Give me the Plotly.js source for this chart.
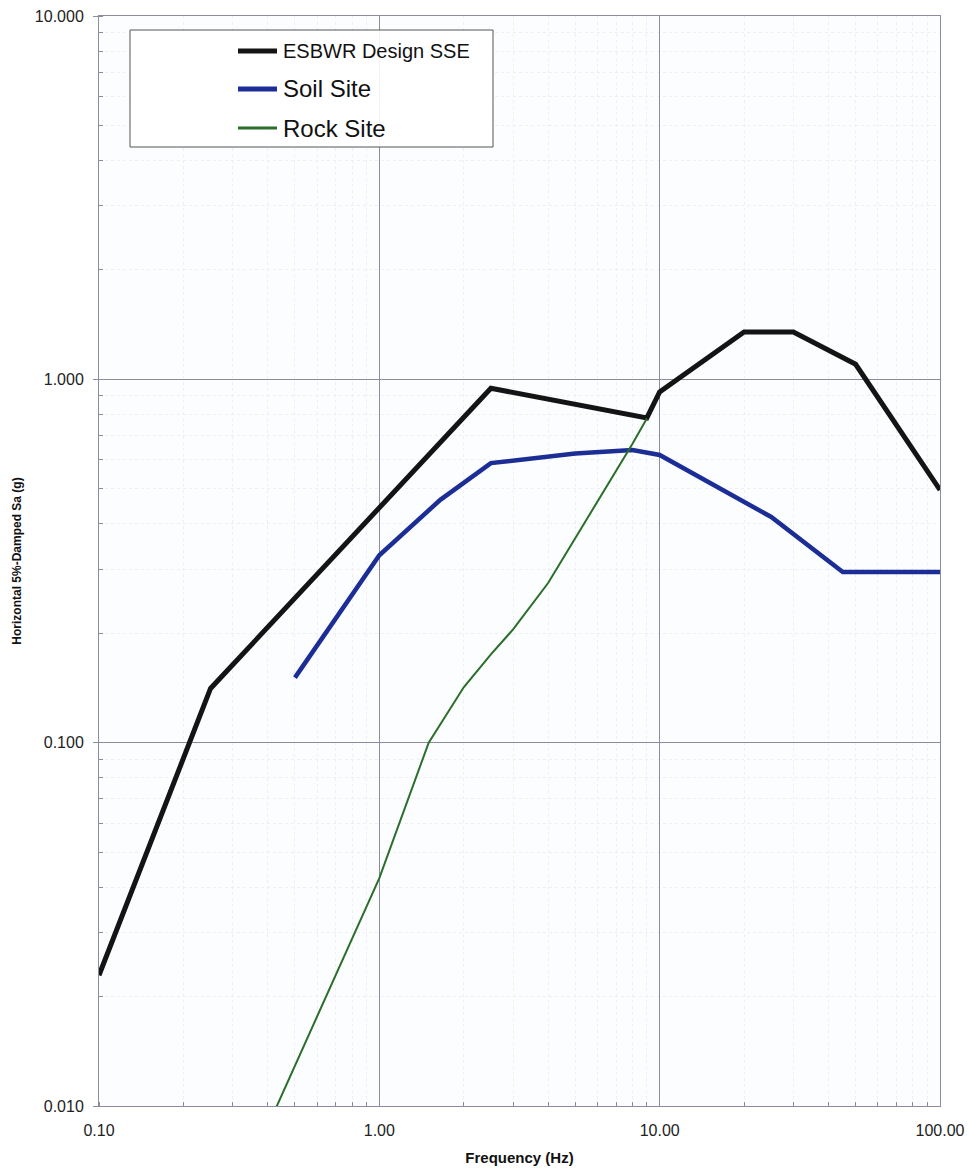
<!DOCTYPE html>
<html>
<head>
<meta charset="utf-8">
<script src="https://cdn.plot.ly/plotly-3.0.1.min.js"></script>
<style>
html,body{margin:0;padding:0;background:#ffffff;}
#chart{width:969px;height:1173px;}
</style>
</head>
<body>
<div id="chart"></div>
<script>
// ---- Data ----
const esbwrFreq = [0.1, 0.25, 2.5, 9, 10, 20, 30, 50, 100];
const esbwrSa   = [0.0229, 0.141, 0.945, 0.783, 0.923, 1.35, 1.35, 1.10, 0.496];

const soilFreq = [0.5, 1.0, 1.65, 2.5, 5.0, 8.0, 10, 25, 45, 100];
const soilSa   = [0.151, 0.328, 0.466, 0.588, 0.625, 0.639, 0.619, 0.418, 0.295, 0.295];

const rockFreq = [0.4, 1.0, 1.5, 2.0, 2.5, 3.0, 4.0, 5.0, 6.0, 7.0, 8.0, 9.0];
const rockSa   = [0.0088, 0.0424, 0.100, 0.142, 0.175, 0.205, 0.275, 0.365, 0.46, 0.56, 0.665, 0.78];

const seriesNames = ["ESBWR Design SSE", "Soil Site", "Rock Site"];

const xTickVals = [0.1, 1, 10, 100];
const xTickText = ["0.10", "1.00", "10.00", "100.00"];
const yTickVals = [0.01, 0.1, 1, 10];
const yTickText = ["0.010", "0.100", "1.000", "10.000"];

const xTitle = "Frequency (Hz)";
const yTitle = "Horizontal 5%-Damped Sa (g)";

// ---- Styles ----
const FONT = "Liberation Sans, Arial, sans-serif";
const seriesColors = ['#141414', '#1c2d96', '#2a6e2a'];
const seriesWidths = [5, 4.5, 2];

const traces = [
  {x: esbwrFreq, y: esbwrSa, name: seriesNames[0], mode: 'lines',
   line: {color: seriesColors[0], width: seriesWidths[0]}},
  {x: soilFreq, y: soilSa, name: seriesNames[1], mode: 'lines',
   line: {color: seriesColors[1], width: seriesWidths[1]}},
  {x: rockFreq, y: rockSa, name: seriesNames[2], mode: 'lines',
   line: {color: seriesColors[2], width: seriesWidths[2]}}
];

const W = 969, H = 1173;
const mL = 99, mR = 29, mT = 16, mB = 67;
const pw = W - mL - mR, ph = H - mT - mB;
function px2x(p){ return (p - mL) / pw; }
function px2y(p){ return 1 - (p - mT) / ph; }

const gridCol = '#8f8aa3';

// Legend drawn as a framed box with line samples and labels
const legendRows = [51, 89, 128];
const legendFontSizes = [20, 24, 24];
const shapes = [
  {type: 'rect', xref: 'paper', yref: 'paper',
   x0: px2x(130), x1: px2x(493), y0: px2y(147), y1: px2y(30),
   line: {color: '#555', width: 1}, fillcolor: 'rgba(255,255,255,0.9)', layer: 'above'}
];
const annotations = [];
seriesNames.forEach((nm, i) => {
  shapes.push({type: 'line', xref: 'paper', yref: 'paper',
    x0: px2x(238), x1: px2x(277), y0: px2y(legendRows[i]), y1: px2y(legendRows[i]),
    line: {color: seriesColors[i], width: i === 2 ? 3 : 5}, layer: 'above'});
  annotations.push({xref: 'paper', yref: 'paper', x: px2x(281), y: px2y(legendRows[i]),
    xanchor: 'left', yanchor: 'middle', showarrow: false, text: nm,
    font: {family: FONT, size: legendFontSizes[i], color: '#111'}});
});

const layout = {
  width: W, height: H,
  margin: {l: mL, r: mR, t: mT, b: mB},
  paper_bgcolor: '#ffffff',
  plot_bgcolor: '#fbfdff',
  font: {family: FONT, color: '#1a1a1a'},
  showlegend: false,
  xaxis: {
    type: 'log', range: [-1, 2],
    tickvals: xTickVals, ticktext: xTickText,
    tickfont: {family: FONT, size: 16, color: '#222'},
    ticks: 'outside', ticklen: 0, ticklabelstandoff: 10,
    showgrid: true, gridcolor: gridCol, gridwidth: 1,
    showline: true, linecolor: gridCol, linewidth: 1, mirror: true,
    zeroline: false,
    minor: {dtick: 'D1', ticks: 'inside', ticklen: 4, tickcolor: '#8a8aa0',
            showgrid: true, gridcolor: '#eeeef4', griddash: 'dot', gridwidth: 1},
    title: {text: '<b>' + xTitle + '</b>', font: {family: FONT, size: 15, color: '#111'}, standoff: 14},
    automargin: false
  },
  yaxis: {
    type: 'log', range: [-2, 1],
    tickvals: yTickVals, ticktext: yTickText,
    tickfont: {family: FONT, size: 16, color: '#222'},
    ticks: 'outside', ticklen: 5, tickcolor: gridCol, ticklabelstandoff: 6,
    showgrid: true, gridcolor: gridCol, gridwidth: 1,
    showline: true, linecolor: gridCol, linewidth: 1, mirror: true,
    zeroline: false,
    minor: {dtick: 'D1', ticks: 'inside', ticklen: 4, tickcolor: '#8a8aa0',
            showgrid: true, gridcolor: '#eeeef4', griddash: 'dot', gridwidth: 1},
    title: {text: '<b>' + yTitle + '</b>', font: {family: FONT, size: 12, color: '#111'}, standoff: 10},
    automargin: false
  },
  shapes: shapes,
  annotations: annotations
};

Plotly.newPlot('chart', traces, layout, {displayModeBar: false, staticPlot: true});
</script>
</body>
</html>
